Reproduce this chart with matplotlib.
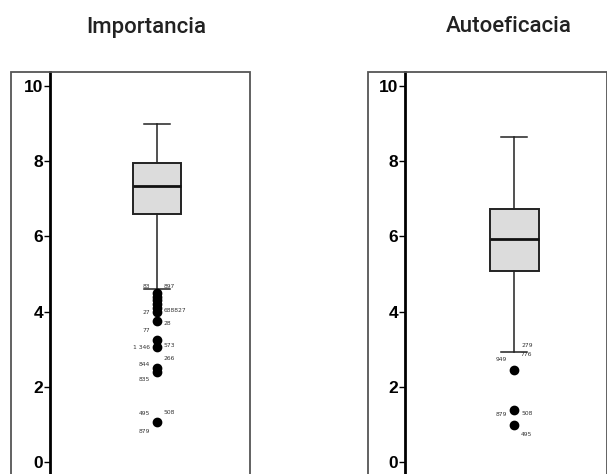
import matplotlib
matplotlib.use("Agg")
import matplotlib.pyplot as plt
from matplotlib.patches import Rectangle

# box statistics
titles = ["Importancia", "Autoeficacia"]
whishi = [9.0, 8.63]
q3 = [7.95, 6.73]
med = [7.35, 5.92]
q1 = [6.6, 5.09]
whislo = [4.6, 2.92]

fliers_imp = [4.5, 4.4, 4.3, 4.2, 4.1, 4.0, 3.75, 3.25, 3.05, 2.5, 2.4, 1.05]
fliers_auto = [2.45, 1.38, 0.98]

# case labels next to the outliers: text, value, side
labels_imp = [("83", 4.66, "l"), ("897", 4.66, "r"), ("27", 3.97, "l"),
              ("688827", 4.02, "r"), ("28", 3.68, "r"), ("77", 3.5, "l"),
              ("1 346", 3.05, "l"), ("573", 3.1, "r"), ("266", 2.75, "r"),
              ("844", 2.6, "l"), ("835", 2.2, "l"), ("495", 1.3, "l"),
              ("508", 1.32, "r"), ("879", 0.82, "l")]
labels_auto = [("279", 3.1, "r"), ("776", 2.85, "r"), ("949", 2.72, "l"),
               ("879", 1.27, "l"), ("508", 1.29, "r"), ("495", 0.72, "r")]

fliers = [fliers_imp, fliers_auto]
labels = [labels_imp, labels_auto]

W, H = 607, 474
fig = plt.figure(figsize=(W / 100, H / 100), dpi=100)

# pixel layout of each panel
frame_left = [11, 368]
axis_left = [50, 405]
title_x = [146, 509]
centers = [0.535, 0.545]
top = 72

for i in range(2):
    fig.patches.append(Rectangle((frame_left[i] / W, -0.05), (250 - 11) / W,
                                 1.05 - top / H, transform=fig.transFigure,
                                 fill=False, edgecolor="#555555", lw=1.3))
    ax = fig.add_axes([axis_left[i] / W, 0, 200 / W, 1 - top / H])
    ax.set_ylim(-0.32, 10.37)
    ax.set_xlim(0, 1)
    stats = [dict(med=med[i], q1=q1[i], q3=q3[i], whislo=whislo[i],
                  whishi=whishi[i], fliers=[])]
    ax.bxp(stats, positions=[centers[i]], widths=0.245, patch_artist=True,
           capwidths=0.13,
           boxprops=dict(facecolor="#dcdcdc", edgecolor="#222222", lw=1.4),
           medianprops=dict(color="#111111", lw=2),
           whiskerprops=dict(color="#222222", lw=1.1),
           capprops=dict(color="#222222", lw=1.1))
    ax.plot([centers[i]] * len(fliers[i]), fliers[i], "o", color="black",
            ms=6, zorder=3)
    for txt, v, side in labels[i]:
        dx = -0.035 if side == "l" else 0.035
        ax.text(centers[i] + dx, v, txt, fontsize=4.3, color="#333333",
                ha="right" if side == "l" else "left", va="center")
    for s in ["top", "right", "bottom"]:
        ax.spines[s].set_visible(False)
    ax.spines["left"].set_linewidth(2)
    ax.set_xticks([])
    ax.set_yticks([0, 2, 4, 6, 8, 10])
    ax.tick_params(axis="y", length=4, width=1, labelsize=12.5, pad=1)
    for t in ax.get_yticklabels():
        t.set_fontweight("bold")
        t.set_family("Liberation Sans")
    fig.text(title_x[i] / W, 1 - 27 / H, titles[i], ha="center",
             va="center", fontsize=16, fontweight="medium", color="#222222",
             family=["Roboto", "DejaVu Sans"])

fig.savefig("out.png", dpi=100)
